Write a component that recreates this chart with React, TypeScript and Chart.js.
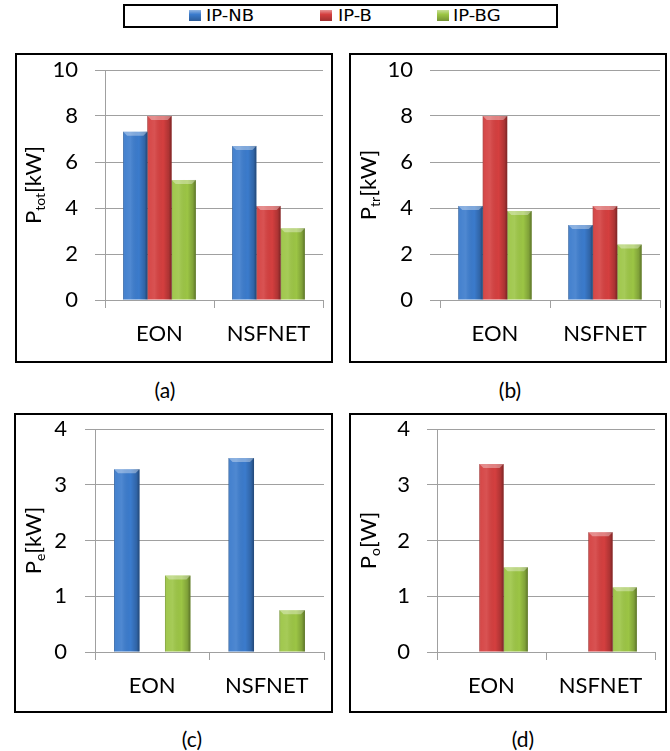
import React, { useEffect, useRef } from 'react';
import { Chart, registerables } from 'chart.js';
Chart.register(...registerables);

// ---------- data ----------
const categories = ['EON', 'NSFNET'];
const seriesNames = ['IP-NB', 'IP-B', 'IP-BG'];

const totNB = [7.32, 6.7];
const totB = [8.0, 4.09];
const totBG = [5.22, 3.12];

const trNB = [4.09, 3.26];
const trB = [8.0, 4.09];
const trBG = [3.87, 2.41];

const eNB = [3.28, 3.48];
const eB = [null, null];
const eBG = [1.37, 0.75];

const oNB = [null, null];
const oB = [3.37, 2.15];
const oBG = [1.52, 1.16];

const kwTicksTop = [0, 2, 4, 6, 8, 10];
const kwTicksBottom = [0, 1, 2, 3, 4];

// ---------- styles ----------
const seriesColors = ['#3b7bcc', '#d43f3f', '#9cc545'];
const gridColor = '#a0a0a0';
const FONT = 'Lato, "Open Sans", sans-serif';

const barShade = {
  id: 'barShade',
  afterDatasetsDraw(chart: any) {
    const ctx = chart.ctx;
    chart.data.datasets.forEach((ds: any, di: number) => {
      const meta = chart.getDatasetMeta(di);
      meta.data.forEach((bar: any, i: number) => {
        const v = ds.data[i];
        if (v == null || v === 0) return;
        const { x, y, base, width } = bar.getProps(['x', 'y', 'base', 'width'], true);
        const l = x - width / 2;
        const r = x + width / 2;
        const h = base - y;
        const g = ctx.createLinearGradient(l, 0, r, 0);
        g.addColorStop(0, 'rgba(0,0,0,0.30)');
        g.addColorStop(0.06, 'rgba(255,255,255,0.05)');
        g.addColorStop(0.3, 'rgba(255,255,255,0.10)');
        g.addColorStop(0.65, 'rgba(0,0,0,0.0)');
        g.addColorStop(0.88, 'rgba(0,0,0,0.18)');
        g.addColorStop(1, 'rgba(0,0,0,0.42)');
        ctx.save();
        ctx.fillStyle = g;
        ctx.fillRect(l, y, width, h);
        const b = 4;
        ctx.beginPath();
        ctx.moveTo(l, y);
        ctx.lineTo(r, y);
        ctx.lineTo(r - b, y + b);
        ctx.lineTo(l + b, y + b);
        ctx.closePath();
        ctx.fillStyle = 'rgba(255,255,255,0.35)';
        ctx.fill();
        ctx.restore();
      });
    });
  },
};

const yTitle = {
  id: 'yTitle',
  afterDraw(chart: any, _args: any, opts: any) {
    if (!opts || !opts.main) return;
    const ctx = chart.ctx;
    const a = chart.chartArea;
    const cy = (a.top + a.bottom) / 2;
    const big = `22px ${FONT}`;
    const small = `14px ${FONT}`;
    ctx.save();
    ctx.font = big;
    const w1 = ctx.measureText(opts.main).width;
    const w3 = ctx.measureText(opts.unit).width;
    ctx.font = small;
    const w2 = ctx.measureText(opts.sub).width;
    const total = w1 + w2 + w3;
    ctx.translate(opts.x, cy);
    ctx.rotate(-Math.PI / 2);
    ctx.fillStyle = '#000';
    ctx.textBaseline = 'alphabetic';
    let px = -total / 2;
    const base = 8;
    ctx.font = big;
    ctx.fillText(opts.main, px, base);
    px += w1;
    ctx.font = small;
    ctx.fillText(opts.sub, px, base + 4);
    px += w2;
    ctx.font = big;
    ctx.fillText(opts.unit, px, base);
    ctx.restore();
  },
};

type PanelCfg = {
  values: (number | null)[][];
  ticks: number[];
  sub: string;
  unit: string;
  box: { left: number; top: number; width: number; height: number };
  area: { left: number; right: number; top: number; bottom: number };
  showYBorder: boolean;
  titleX: number;
  tickPad: number;
  caption: string;
  captionX: number;
  captionY: number;
};

const panels: PanelCfg[] = [
  {
    values: [totNB, totB, totBG], ticks: kwTicksTop, sub: 'tot', unit: '[kW]',
    box: { left: 15, top: 53, width: 318, height: 310 },
    area: { left: 88, right: 306, top: 15, bottom: 245 },
    showYBorder: true, titleX: 16, tickPad: 17,
    caption: '(a)', captionX: 165, captionY: 377,
  },
  {
    values: [trNB, trB, trBG], ticks: kwTicksTop, sub: 'tr', unit: '[kW]',
    box: { left: 349, top: 53, width: 318, height: 310 },
    area: { left: 89, right: 309, top: 15, bottom: 245 },
    showYBorder: false, titleX: 17, tickPad: 17,
    caption: '(b)', captionX: 510, captionY: 377,
  },
  {
    values: [eNB, eB, eBG], ticks: kwTicksBottom, sub: 'e', unit: '[kW]',
    box: { left: 14, top: 413, width: 319, height: 300 },
    area: { left: 79, right: 308, top: 14, bottom: 237 },
    showYBorder: true, titleX: 17, tickPad: 18,
    caption: '(c)', captionX: 192, captionY: 726,
  },
  {
    values: [oNB, oB, oBG], ticks: kwTicksBottom, sub: 'o', unit: '[W]',
    box: { left: 349, top: 413, width: 318, height: 300 },
    area: { left: 86, right: 304, top: 14, bottom: 237 },
    showYBorder: true, titleX: 17, tickPad: 17,
    caption: '(d)', captionX: 523, captionY: 726,
  },
];

function Panel({ cfg }: { cfg: PanelCfg }) {
  const ref = useRef<HTMLCanvasElement>(null);
  const W = cfg.box.width - 4;
  const H = cfg.box.height - 4;
  useEffect(() => {
    if (!ref.current) return;
    const a = cfg.area;
    const yMax = cfg.ticks[cfg.ticks.length - 1];
    const chart = new Chart(ref.current, {
      type: 'bar',
      data: {
        labels: categories,
        datasets: seriesNames.map((n, i) => ({
          label: n,
          data: cfg.values[i] as any,
          backgroundColor: seriesColors[i],
          borderWidth: 0,
          categoryPercentage: 0.667,
          barPercentage: 1.0,
        })),
      },
      options: {
        responsive: false,
        maintainAspectRatio: false,
        animation: false,
        devicePixelRatio: 1,
        layout: { padding: { left: 0, right: W - a.right, top: a.top, bottom: 0 } },
        plugins: {
          legend: { display: false },
          tooltip: { enabled: false },
          yTitle: { main: 'P', sub: cfg.sub, unit: cfg.unit, x: cfg.titleX },
        } as any,
        scales: {
          x: {
            grid: {
              display: true, drawOnChartArea: false, drawTicks: true,
              tickLength: 8, color: gridColor, offset: true, lineWidth: 1,
            },
            border: { display: true, color: gridColor },
            ticks: { font: { family: FONT, size: 22 }, color: '#000', padding: 13 },
            afterFit: (s: any) => {
              s.height = H - a.bottom;
              s.paddingLeft = 0; s.paddingRight = 0;
            },
          },
          y: {
            min: 0,
            max: yMax,
            afterBuildTicks: (s: any) => { s.ticks = cfg.ticks.map((v) => ({ value: v })); },
            ticks: { font: { family: FONT, size: 22 }, color: '#000', padding: cfg.tickPad },
            grid: { color: gridColor, tickLength: 10, drawTicks: true, lineWidth: 1 },
            border: { display: cfg.showYBorder, color: gridColor },
            afterFit: (s: any) => {
              s.width = a.left;
              s.paddingTop = 0; s.paddingBottom = 0;
            },
          },
        },
      } as any,
      plugins: [barShade, yTitle],
    });
    return () => chart.destroy();
  }, []);
  return (
    <>
      <div
        style={{
          position: 'absolute', left: cfg.box.left, top: cfg.box.top,
          width: cfg.box.width, height: cfg.box.height,
          border: '2px solid #000', boxSizing: 'border-box', background: '#fff',
        }}
      >
        <canvas ref={ref} width={W} height={H} style={{ display: 'block', width: W, height: H }} />
      </div>
      <div
        style={{
          position: 'absolute', left: cfg.captionX - 30, width: 60, top: cfg.captionY,
          textAlign: 'center', font: `21px ${FONT}`, color: '#000', lineHeight: '26px',
        }}
      >
        {cfg.caption}
      </div>
    </>
  );
}

const legendItems = [
  { sw: 189, tx: 206 },
  { sw: 320, tx: 338 },
  { sw: 437, tx: 453 },
];

export default function App() {
  return (
    <div style={{ position: 'absolute', left: 0, top: 0, width: 670, height: 751, background: '#fff' }}>
      <div
        style={{
          position: 'absolute', left: 123, top: 4, width: 435, height: 24,
          border: '2px solid #000', boxSizing: 'border-box',
        }}
      />
      {seriesNames.map((n, i) => (
        <React.Fragment key={n}>
          <div
            style={{
              position: 'absolute', left: legendItems[i].sw, top: 10, width: 12, height: 11,
              background: `linear-gradient(180deg, rgba(255,255,255,0.45), rgba(255,255,255,0) 40%, rgba(0,0,0,0.25)), ${seriesColors[i]}`,
            }}
          />
          <div
            style={{
              position: 'absolute', left: legendItems[i].tx, top: 6, height: 20,
              font: '15px "DejaVu Sans", sans-serif', lineHeight: '20px', color: '#000',
              transform: 'scaleX(1.2)', transformOrigin: 'left center', whiteSpace: 'nowrap',
            }}
          >
            {n}
          </div>
        </React.Fragment>
      ))}
      {panels.map((p, i) => (
        <Panel key={i} cfg={p} />
      ))}
    </div>
  );
}
